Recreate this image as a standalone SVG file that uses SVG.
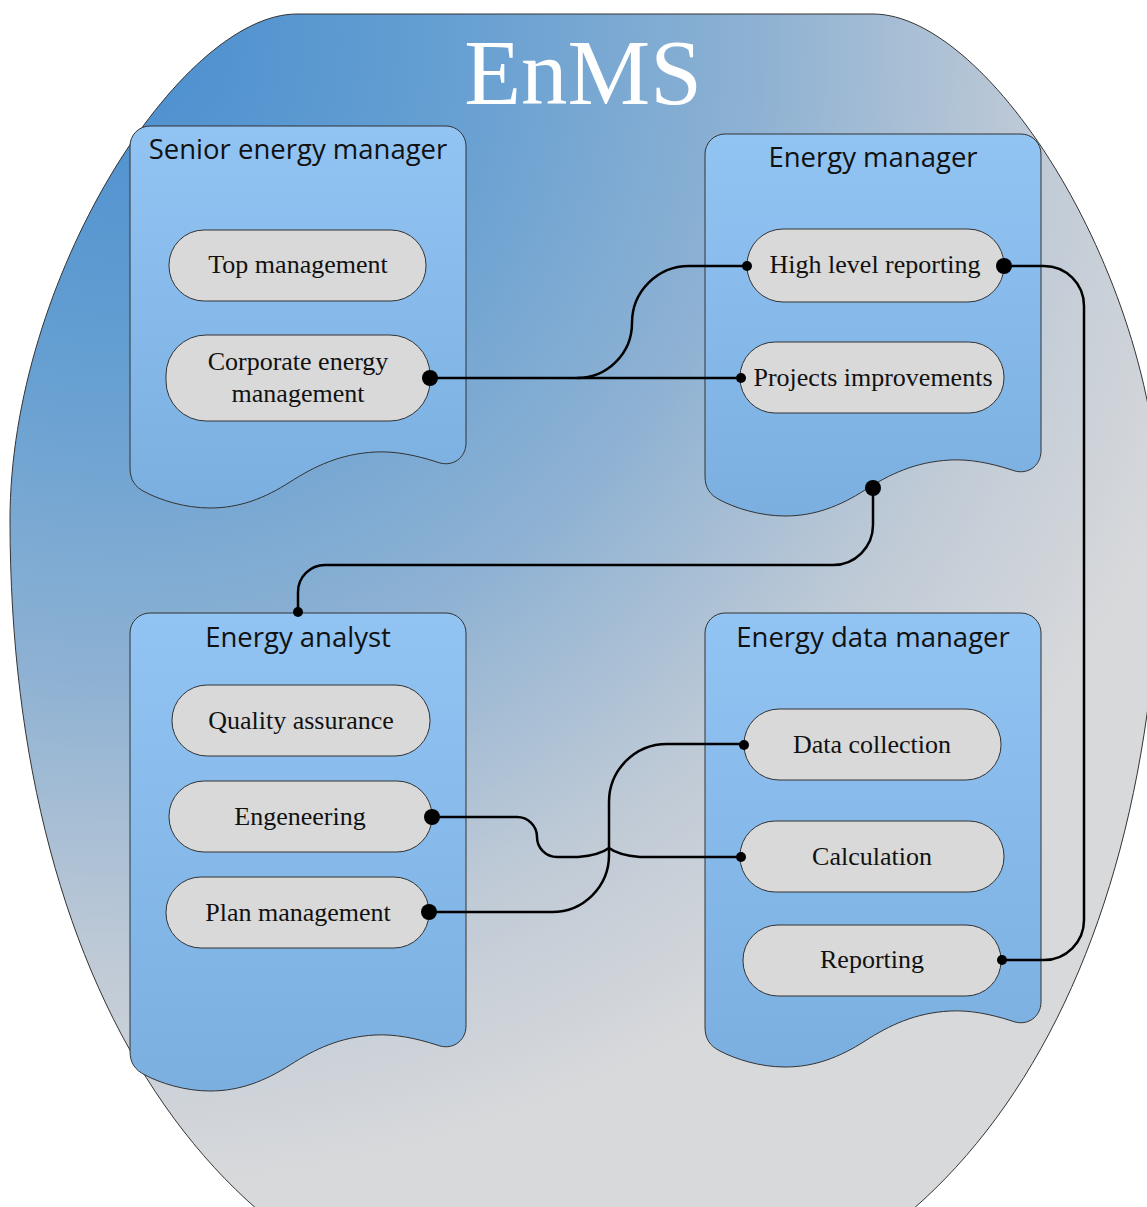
<svg xmlns="http://www.w3.org/2000/svg" width="1147" height="1207" viewBox="0 0 1147 1207">
  <defs>
    <radialGradient id="bg" gradientUnits="userSpaceOnUse" cx="120" cy="40" r="1150">
      <stop offset="0" stop-color="#4A8ECF"/>
      <stop offset="0.3" stop-color="#67A0D2"/>
      <stop offset="0.55" stop-color="#8DB1D3"/>
      <stop offset="0.8" stop-color="#BFCAD6"/>
      <stop offset="1" stop-color="#D8D9DB"/>
    </radialGradient>
    <linearGradient id="doc" x1="0" y1="0" x2="0" y2="1">
      <stop offset="0" stop-color="#92C4F3"/>
      <stop offset="1" stop-color="#7AAFE0"/>
    </linearGradient>
  </defs>
  <style>
    .doc { fill: url(#doc); stroke: #333; stroke-width: 1; }
    .pill { fill: #D9D9D9; stroke: #333; stroke-width: 1; }
    .title { font-family: "Open Sans", "Noto Sans", sans-serif; font-size: 27.5px; fill: #111; text-anchor: middle; }
    .lbl { font-family: "Liberation Serif", "Times New Roman", serif; font-size: 26px; fill: #111; text-anchor: middle; }
    .wire { fill: none; stroke: #000; stroke-width: 2.5; }
    .dot { fill: #000; }
  </style>

  <g id="enms">
    <path d="M297,14 H873 C990,14 1160,280 1160,520 C1160,1000 940,1330 585,1330 C230,1330 10,1000 10,520 C10,280 180,14 297,14 Z" fill="url(#bg)" stroke="#333" stroke-width="1"/>
    <text x="583" y="104" font-family="Liberation Serif, Times New Roman, serif" font-size="93" fill="#FFFFFF" text-anchor="middle">EnMS</text>
  </g>

  <g id="senior-energy-manager">
    <path class="doc" transform="translate(130,126)" d="M20,0 H316 A20,20 0 0 1 336,20 V317 C336,332 322,342 307,336 C285,329 265,325 245,326 C210,328 185,340 160,356 C135,372 110,382 80,382 C55,382 30,374 15,366 C5,361 0,354 0,342 V20 A20,20 0 0 1 20,0 Z"/>
    <text class="title" x="298" y="159">Senior energy manager</text>
  </g>

  <g id="energy-manager">
    <path class="doc" transform="translate(705,134)" d="M20,0 H316 A20,20 0 0 1 336,20 V317 C336,332 322,342 307,336 C285,329 265,325 245,326 C210,328 185,340 160,356 C135,372 110,382 80,382 C55,382 30,374 15,366 C5,361 0,354 0,342 V20 A20,20 0 0 1 20,0 Z"/>
    <text class="title" x="873" y="167">Energy manager</text>
  </g>

  <g id="energy-analyst">
    <path class="doc" transform="translate(130,613)" d="M20,0 H316 A20,20 0 0 1 336,20 V413 C336,428 322,438 307,432 C285,425 265,421 245,422 C210,424 185,436 160,452 C135,468 110,478 80,478 C55,478 30,470 15,462 C5,457 0,450 0,438 V20 A20,20 0 0 1 20,0 Z"/>
    <text class="title" x="298" y="647">Energy analyst</text>
  </g>

  <g id="energy-data-manager">
    <path class="doc" transform="translate(705,613)" d="M20,0 H316 A20,20 0 0 1 336,20 V389 C336,404 322,414 307,408 C285,401 265,397 245,398 C210,400 185,412 160,428 C135,444 110,454 80,454 C55,454 30,446 15,438 C5,433 0,426 0,414 V20 A20,20 0 0 1 20,0 Z"/>
    <text class="title" x="873" y="647">Energy data manager</text>
  </g>

  <g id="top-management">
    <rect class="pill" x="169" y="230" width="257" height="71" rx="35" ry="35"/>
    <text class="lbl" x="298" y="273">Top management</text>
  </g>
  <g id="corporate-energy-management">
    <rect class="pill" x="166" y="335" width="264" height="86" rx="40" ry="40"/>
    <text class="lbl" x="298" y="370">Corporate energy</text>
    <text class="lbl" x="298" y="402">management</text>
  </g>
  <g id="high-level-reporting">
    <rect class="pill" x="747" y="229" width="257" height="73" rx="36" ry="36"/>
    <text class="lbl" x="875" y="273">High level reporting</text>
  </g>
  <g id="projects-improvements">
    <rect class="pill" x="740" y="342" width="264" height="71" rx="35" ry="35"/>
    <text class="lbl" x="873" y="386">Projects improvements</text>
  </g>
  <g id="quality-assurance">
    <rect class="pill" x="172" y="685" width="258" height="71" rx="35" ry="35"/>
    <text class="lbl" x="301" y="729">Quality assurance</text>
  </g>
  <g id="engeneering">
    <rect class="pill" x="169" y="781" width="263" height="71" rx="35" ry="35"/>
    <text class="lbl" x="300" y="825">Engeneering</text>
  </g>
  <g id="plan-management">
    <rect class="pill" x="166" y="877" width="263" height="71" rx="35" ry="35"/>
    <text class="lbl" x="298" y="921">Plan management</text>
  </g>
  <g id="data-collection">
    <rect class="pill" x="744" y="709" width="257" height="71" rx="35" ry="35"/>
    <text class="lbl" x="872" y="753">Data collection</text>
  </g>
  <g id="calculation">
    <rect class="pill" x="740" y="821" width="264" height="71" rx="35" ry="35"/>
    <text class="lbl" x="872" y="865">Calculation</text>
  </g>
  <g id="reporting">
    <rect class="pill" x="743" y="925" width="258" height="71" rx="35" ry="35"/>
    <text class="lbl" x="872" y="968">Reporting</text>
  </g>

  <g id="connectors">
    <path class="wire" d="M430,378 H741"/>
    <path class="wire" d="M577,378 A55,55 0 0 0 632,323 A57,57 0 0 1 689,266 H747"/>
    <path class="wire" d="M1004,266 H1044 A40,40 0 0 1 1084,306 V920 A40,40 0 0 1 1044,960 H1002"/>
    <path class="wire" d="M873,488 V525 A40,40 0 0 1 833,565 H325 A27,27 0 0 0 298,592 V612"/>
    <path class="wire" d="M432,817 H517 A20,20 0 0 1 537,837 A20,20 0 0 0 557,857 H578 Q600,855 609,848 Q618,855 640,857 H741"/>
    <path class="wire" d="M429,912 H552 A57,57 0 0 0 609,855 V802 A58,58 0 0 1 667,744 H744"/>
    <circle class="dot" cx="430" cy="378" r="8"/>
    <circle class="dot" cx="741" cy="378" r="5"/>
    <circle class="dot" cx="747" cy="266" r="5"/>
    <circle class="dot" cx="1004" cy="266" r="8"/>
    <circle class="dot" cx="1002" cy="960" r="5"/>
    <circle class="dot" cx="873" cy="488" r="8"/>
    <circle class="dot" cx="298" cy="612" r="5"/>
    <circle class="dot" cx="432" cy="817" r="8"/>
    <circle class="dot" cx="741" cy="857" r="5"/>
    <circle class="dot" cx="429" cy="912" r="8"/>
    <circle class="dot" cx="744" cy="745" r="5"/>
  </g>
</svg>
